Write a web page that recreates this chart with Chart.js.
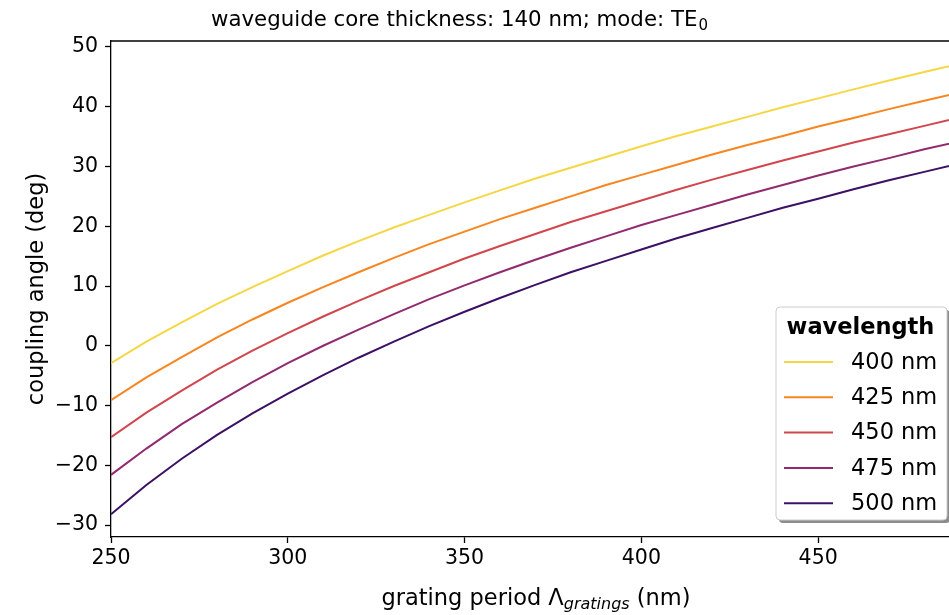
<!DOCTYPE html>
<html lang="en">
<head>
    <meta charset="UTF-8">
    <title>Coupling angle vs grating period</title>
    <script src="https://cdn.jsdelivr.net/npm/chart.js"></script>
    <style>
        html, body { margin: 0; padding: 0; background: #fff; }
        canvas { display: block; }
    </style>
</head>
<body>
    <canvas id="angleChart" width="949" height="615"></canvas>

    <script>
        // grating period (nm)
        const periods = [250, 260, 270, 280, 290, 300, 310, 320, 330, 340, 350, 360, 370,
                         380, 390, 400, 410, 420, 430, 440, 450, 460, 470, 480, 490, 500];

        const wavelengths = ['400 nm', '425 nm', '450 nm', '475 nm', '500 nm'];

        // coupling angle (deg)
        const angle400 = [-2.9, 0.7, 3.9, 7.0, 9.8, 12.5, 15.1, 17.5, 19.8, 21.9, 24.0, 26.0, 28.0,
                          29.8, 31.6, 33.4, 35.1, 36.7, 38.3, 39.9, 41.4, 42.9, 44.4, 45.8, 47.2, 48.6];
        const angle425 = [-9.1, -5.3, -1.9, 1.4, 4.4, 7.2, 9.8, 12.3, 14.7, 17.0, 19.1, 21.2, 23.1,
                          25.0, 26.9, 28.6, 30.3, 32.0, 33.6, 35.1, 36.7, 38.1, 39.6, 41.0, 42.4, 43.8];
        const angle450 = [-15.3, -11.2, -7.5, -4.0, -0.8, 2.1, 4.9, 7.5, 10.0, 12.3, 14.6, 16.7, 18.7,
                          20.7, 22.5, 24.3, 26.1, 27.8, 29.4, 31.0, 32.5, 34.0, 35.4, 36.8, 38.2, 39.6];
        const angle475 = [-21.6, -17.2, -13.1, -9.5, -6.1, -2.9, 0.0, 2.7, 5.3, 7.8, 10.1, 12.3, 14.4,
                          16.4, 18.3, 20.2, 21.9, 23.6, 25.3, 26.9, 28.5, 30.0, 31.4, 32.9, 34.2, 35.6];
        const angle500 = [-28.2, -23.3, -18.9, -14.9, -11.3, -8.0, -4.9, -2.0, 0.7, 3.3, 5.7, 8.0, 10.2,
                          12.3, 14.2, 16.1, 18.0, 19.7, 21.4, 23.1, 24.6, 26.2, 27.7, 29.1, 30.5, 31.9];

        const xTicks = [250, 300, 350, 400, 450];
        const yTicks = [-30, -20, -10, 0, 10, 20, 30, 40, 50];

        const lineColors = ['#f5d745', '#f8851f', '#d0464c', '#912a6e', '#3d1064'];
        const allAngles = [angle400, angle425, angle450, angle475, angle500];

        const FONT = "'DejaVu Sans', sans-serif";
        const TICK_SIZE = 20.5;
        const LABEL_SIZE = 22.5;

        // title, axis labels with subscripts, top spine and the legend box
        const extrasPlugin = {
            id: 'extras',
            afterDraw(chart) {
                const ctx = chart.ctx;
                const area = chart.chartArea;
                ctx.save();

                // top spine
                ctx.strokeStyle = '#000';
                ctx.lineWidth = 1.3;
                ctx.beginPath();
                ctx.moveTo(area.left, area.top);
                ctx.lineTo(area.right, area.top);
                ctx.stroke();

                ctx.fillStyle = '#000';
                ctx.textBaseline = 'alphabetic';
                ctx.textAlign = 'left';

                // title
                const t1 = 'waveguide core thickness: 140 nm; mode: TE';
                const tSub = '0';
                ctx.font = '21.3px ' + FONT;
                const w1 = ctx.measureText(t1).width;
                ctx.font = '15px ' + FONT;
                const w2 = ctx.measureText(tSub).width;
                const tx = 459 - (w1 + w2) / 2;
                ctx.font = '21.3px ' + FONT;
                ctx.fillText(t1, tx, 26);
                ctx.font = '15px ' + FONT;
                ctx.fillText(tSub, tx + w1 + 1, 30);

                // y axis label
                ctx.save();
                ctx.translate(37, (area.top + area.bottom) / 2);
                ctx.rotate(-Math.PI / 2);
                ctx.font = LABEL_SIZE + 'px ' + FONT;
                ctx.textAlign = 'center';
                ctx.textBaseline = 'middle';
                ctx.fillText('coupling angle (deg)', 0, 0);
                ctx.restore();

                // x axis label
                const a = 'grating period Λ';
                const sub = 'gratings';
                const b = ' (nm)';
                ctx.font = LABEL_SIZE + 'px ' + FONT;
                const wa = ctx.measureText(a).width;
                const wb = ctx.measureText(b).width;
                ctx.font = 'italic 16px ' + FONT;
                const ws = ctx.measureText(sub).width;
                const lx = 536 - (wa + ws + wb) / 2;
                ctx.font = LABEL_SIZE + 'px ' + FONT;
                ctx.fillText(a, lx, 605);
                ctx.font = 'italic 16px ' + FONT;
                ctx.fillText(sub, lx + wa, 609);
                ctx.font = LABEL_SIZE + 'px ' + FONT;
                ctx.fillText(b, lx + wa + ws, 605);

                // legend
                const bx = 776, by = 307, bw = 171, bh = 213, r = 4;
                ctx.fillStyle = 'rgba(0,0,0,0.45)';
                ctx.beginPath();
                ctx.roundRect(bx + 3, by + 3, bw, bh, r);
                ctx.fill();
                ctx.fillStyle = '#fff';
                ctx.strokeStyle = '#cccccc';
                ctx.lineWidth = 1;
                ctx.beginPath();
                ctx.roundRect(bx, by, bw, bh, r);
                ctx.fill();
                ctx.stroke();

                ctx.fillStyle = '#000';
                ctx.font = 'bold ' + LABEL_SIZE + 'px ' + FONT;
                ctx.textAlign = 'center';
                ctx.textBaseline = 'middle';
                ctx.fillText('wavelength', bx + bw / 2 - 1, 328);

                ctx.font = LABEL_SIZE + 'px ' + FONT;
                ctx.textAlign = 'left';
                chart.data.datasets.forEach((ds, i) => {
                    const y = 362 + i * 35.3;
                    ctx.strokeStyle = ds.borderColor;
                    ctx.lineWidth = 2;
                    ctx.beginPath();
                    ctx.moveTo(784, y);
                    ctx.lineTo(833, y);
                    ctx.stroke();
                    ctx.fillStyle = '#000';
                    ctx.fillText(ds.label, 851, y + 1);
                });

                ctx.restore();
            }
        };

        const datasets = wavelengths.map((label, i) => ({
            label: label,
            data: periods.map((p, j) => ({ x: p, y: allAngles[i][j] })),
            borderColor: lineColors[i],
            backgroundColor: lineColors[i],
            borderWidth: 2,
            pointRadius: 0,
            tension: 0,
            fill: false
        }));

        const ctx = document.getElementById('angleChart').getContext('2d');
        new Chart(ctx, {
            type: 'line',
            data: { datasets: datasets },
            options: {
                responsive: false,
                animation: false,
                layout: { padding: { top: 41, right: 0, left: 0, bottom: 0 } },
                plugins: {
                    legend: { display: false },
                    title: { display: false },
                    tooltip: { enabled: false }
                },
                scales: {
                    x: {
                        type: 'linear',
                        min: 250,
                        max: 487,
                        afterBuildTicks: axis => { axis.ticks = xTicks.map(v => ({ value: v })); },
                        afterFit: axis => { axis.height = 78; },
                        border: { color: '#000', width: 1.3 },
                        grid: { drawOnChartArea: false, drawTicks: true, tickLength: 6, color: '#000', tickWidth: 1.3 },
                        ticks: { color: '#000', font: { family: FONT, size: TICK_SIZE }, padding: 3, maxRotation: 0 }
                    },
                    y: {
                        min: -32,
                        max: 51,
                        afterBuildTicks: axis => { axis.ticks = yTicks.map(v => ({ value: v })); },
                        afterFit: axis => { axis.width = 111; },
                        border: { color: '#000', width: 1.3 },
                        grid: { drawOnChartArea: false, drawTicks: true, tickLength: 6, color: '#000', tickWidth: 1.3 },
                        ticks: {
                            color: '#000',
                            font: { family: FONT, size: TICK_SIZE },
                            padding: 7,
                            callback: v => String(v).replace('-', '\u2212')
                        }
                    }
                }
            },
            plugins: [extrasPlugin]
        });
    </script>
</body>
</html>
